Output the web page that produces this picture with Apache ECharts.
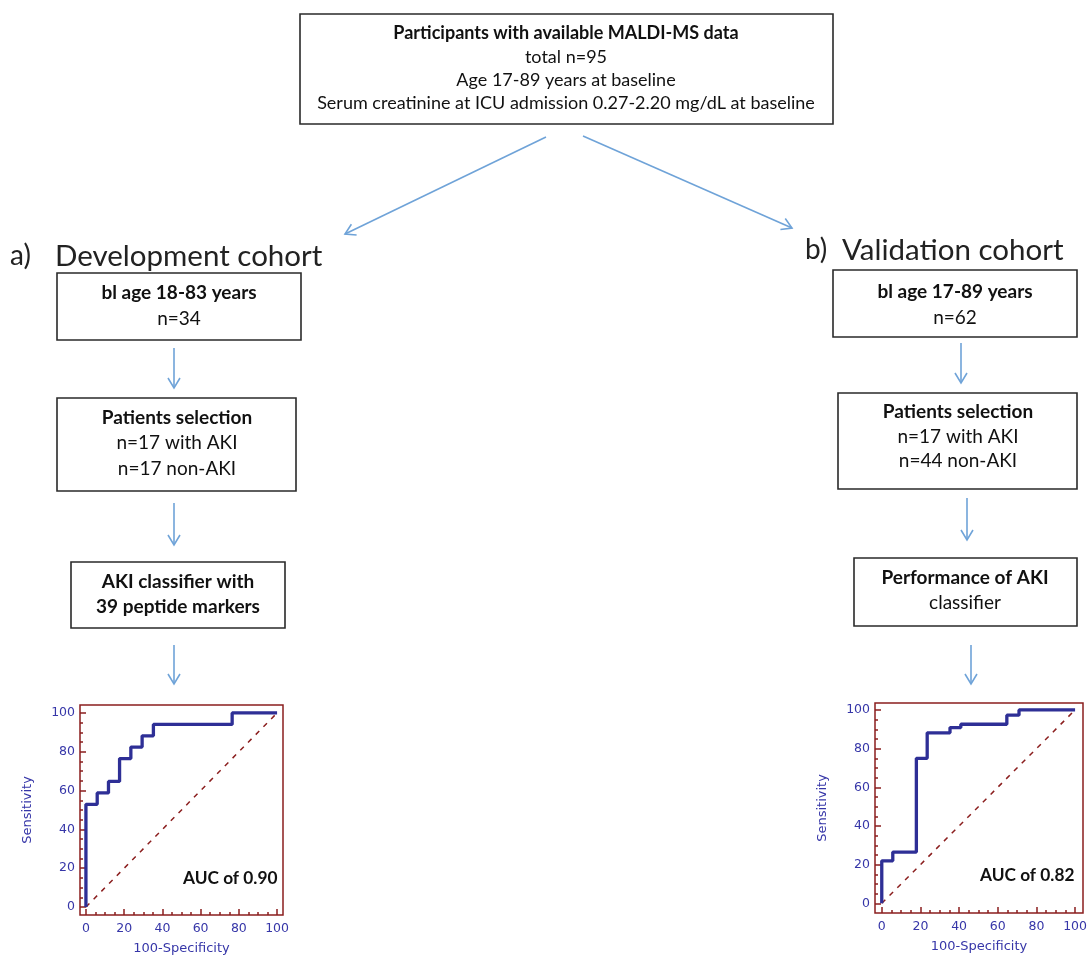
<!DOCTYPE html>
<html><head><meta charset="utf-8">
<script src="https://cdn.jsdelivr.net/npm/echarts@6/dist/echarts.min.js"></script>
<style>html,body{margin:0;padding:0;background:#fff}#c{width:1092px;height:958px}</style>
</head><body><div id="c"></div>
<script>
// ---- ROC data (100-Specificity vs Sensitivity) ----
const devFpr = [0, 0, 5.9, 11.8, 17.6, 23.5, 29.4, 35.3, 76.5, 100];
const devTpr = [0, 52.9, 58.8, 64.7, 76.5, 82.4, 88.2, 94.1, 100, 100];
const valFpr = [0, 0, 5.7, 17.9, 23.5, 35.3, 40.9, 64.7, 71.0, 100];
const valTpr = [0, 22, 26.5, 75, 88.2, 90.9, 92.6, 97.3, 100, 100];
const refLine = [0, 100];
const majorTicks = [0, 20, 40, 60, 80, 100];
const minorTicks = [5, 10, 15, 25, 30, 35, 45, 50, 55, 65, 70, 75, 85, 90, 95];
const devAUC = 'AUC of 0.90';
const valAUC = 'AUC of 0.82';

// ---- flowchart texts ----
const topLines = ['Participants with available MALDI-MS data', 'total n=95', 'Age 17-89 years at baseline', 'Serum creatinine at ICU admission 0.27-2.20 mg/dL at baseline'];
const devTitle = ['a)', 'Development cohort'];
const valTitle = ['b)', 'Validation cohort'];
const devBox1 = ['bl age 18-83 years', 'n=34'];
const devBox2 = ['Patients selection', 'n=17 with AKI', 'n=17 non-AKI'];
const devBox3 = ['AKI classifier with', '39 peptide markers'];
const valBox1 = ['bl age 17-89 years', 'n=62'];
const valBox2 = ['Patients selection', 'n=17 with AKI', 'n=44 non-AKI'];
const valBox3 = ['Performance of AKI', 'classifier'];

const FRAME = '#8b1e1e', CURVE = '#2e2f96', LAB = '#3636a8', ARROW = '#6fa3d8', BOXC = '#2a2a2a';
const FLOWFONT = 'Lato, "Open Sans", sans-serif';

const g = [];
function setText(x, y, s, font, color) {
  g.push({type: 'text', x: x, y: y, style: {text: s, font: font, fill: color || '#111',
    align: 'center', verticalAlign: 'middle', textAlign: 'center', textVerticalAlign: 'middle'}});
}
function leftText(x, y, s, font, color) {
  g.push({type: 'text', x: x, y: y, style: {text: s, font: font, fill: color || '#111',
    align: 'left', verticalAlign: 'middle', textAlign: 'left', textVerticalAlign: 'middle'}});
}
function box(x1, y1, x2, y2) {
  g.push({type: 'rect', shape: {x: x1, y: y1, width: x2 - x1, height: y2 - y1},
    style: {fill: '#fff', stroke: BOXC, lineWidth: 1.6}});
}
function arrow(x1, y1, x2, y2) {
  const dx = x2 - x1, dy = y2 - y1, L = Math.hypot(dx, dy), ux = dx / L, uy = dy / L;
  const hl = 10, hw = 6;
  g.push({type: 'line', shape: {x1: x1, y1: y1, x2: x2, y2: y2}, style: {stroke: ARROW, lineWidth: 1.6}});
  g.push({type: 'polyline', shape: {points: [[x2 - ux * hl - uy * hw, y2 - uy * hl + ux * hw], [x2, y2],
    [x2 - ux * hl + uy * hw, y2 - uy * hl - ux * hw]]}, style: {stroke: ARROW, lineWidth: 1.6, fill: null}});
}
function boxLines(cx, ys, lines, boldCount) {
  lines.forEach((s, i) => setText(cx, ys[i], s, (i < boldCount ? 'bold ' : '') + '19px ' + FLOWFONT));
}

// top box
box(300, 14, 833, 124);
topLines.forEach((s, i) => setText(566, [33, 57, 80, 103][i], s, (i === 0 ? 'bold ' : '') + '18px ' + FLOWFONT));
arrow(546, 137, 345, 234);
arrow(583, 136, 792, 228);

// headings
leftText(10, 256, devTitle[0], '28px ' + FLOWFONT, '#222');
leftText(55, 256, devTitle[1], '29.5px ' + FLOWFONT, '#222');
leftText(805, 250, valTitle[0], '28px ' + FLOWFONT, '#222');
leftText(842, 250, valTitle[1], '29.5px ' + FLOWFONT, '#222');

// development column
box(57, 273, 301, 340); boxLines(179, [293, 319], devBox1, 1);
arrow(174, 348, 174, 388);
box(57, 398, 296, 491); boxLines(177, [418, 443, 469], devBox2, 1);
arrow(174, 503, 174, 545);
box(71, 562, 285, 628); boxLines(178, [582, 607], devBox3, 2);
arrow(174, 645, 174, 684);

// validation column
box(833, 270, 1077, 337); boxLines(955, [292, 318], valBox1, 1);
arrow(961, 343, 961, 383);
box(838, 393, 1077, 489); boxLines(958, [412, 437, 461], valBox2, 1);
arrow(967, 498, 967, 540);
box(854, 558, 1077, 626); boxLines(965, [578, 603], valBox3, 1);
arrow(971, 645, 971, 684);

// AUC labels
leftText(183, 878, devAUC, 'bold 17.3px ' + FLOWFONT, '#111');
leftText(980, 875, valAUC, 'bold 17.3px ' + FLOWFONT, '#111');

const labStyle = {color: LAB, fontFamily: 'DejaVu Sans', fontSize: 12.5};
function axesFor(kind, gi, min, max, name) {
  const base = {type: 'value', gridIndex: gi, min: min, max: max, splitLine: {show: false},
    axisLine: {show: false, onZero: false}, position: kind === 'x' ? 'bottom' : 'left'};
  const major = Object.assign({}, base, {
    axisTick: {show: true, inside: true, length: 6, customValues: majorTicks, lineStyle: {color: FRAME, width: 1.5}},
    axisLabel: Object.assign({customValues: majorTicks, margin: kind === 'x' ? 7 : 5}, labStyle),
    name: name, nameLocation: 'middle', nameGap: kind === 'x' ? 27 : 46,
    nameTextStyle: {color: LAB, fontFamily: 'DejaVu Sans', fontSize: 13}
  });
  const minor = Object.assign({}, base, {
    axisTick: {show: true, inside: true, length: 3, customValues: minorTicks, lineStyle: {color: FRAME, width: 1.5}},
    axisLabel: {show: false}
  });
  return [major, minor];
}

const pairs = (xs, ys) => xs.map((x, i) => [x, ys[i]]);
const grids = [
  {left: 80, top: 705, width: 203, height: 210, show: true, borderColor: FRAME, borderWidth: 1.5},
  {left: 875, top: 703, width: 208, height: 210, show: true, borderColor: FRAME, borderWidth: 1.5}
];
const xAxes = [].concat(axesFor('x', 0, -3.1, 103.1, '100-Specificity'), axesFor('x', 1, -3.5, 104.1, '100-Specificity'));
const yAxes = [].concat(axesFor('y', 0, -4.1, 104.1, 'Sensitivity'), axesFor('y', 1, -5.0, 103.6, 'Sensitivity'));

function rocSeries(xi, yi, fpr, tpr) {
  return [{
    type: 'line', xAxisIndex: xi, yAxisIndex: yi, data: pairs(refLine, refLine), symbol: 'none', silent: true,
    lineStyle: {color: FRAME, width: 1.5, type: [5, 6]}, clip: false
  }, {
    type: 'line', xAxisIndex: xi, yAxisIndex: yi, data: pairs(fpr, tpr), step: 'end', symbol: 'none',
    lineStyle: {color: CURVE, width: 3.3}, clip: false
  }];
}

const chart = echarts.init(document.getElementById('c'), null, {renderer: 'canvas'});
chart.setOption({
  animation: false,
  backgroundColor: '#fff',
  grid: grids,
  xAxis: xAxes,
  yAxis: yAxes,
  series: [].concat(rocSeries(0, 0, devFpr, devTpr), rocSeries(2, 2, valFpr, valTpr)),
  graphic: {elements: g}
});
</script></body></html>
